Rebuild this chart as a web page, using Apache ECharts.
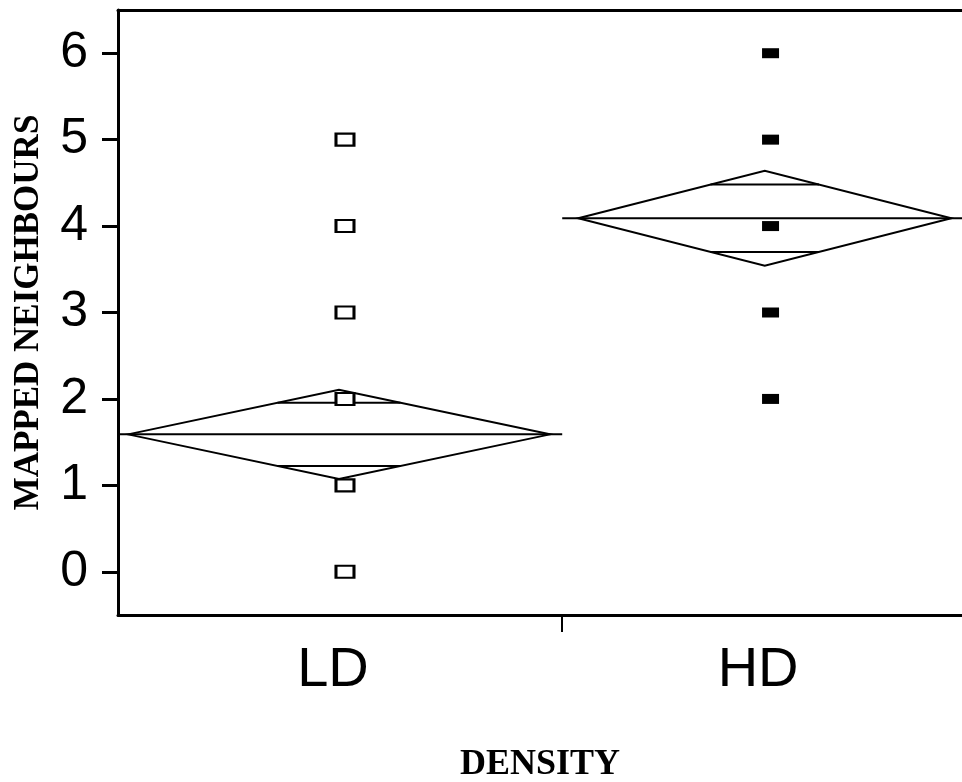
<!DOCTYPE html>
<html lang="en">

<head>
  <meta charset='utf-8'>
  <title>Mapped neighbours by density</title>
  <style>
    html, body { margin: 0; padding: 0; background: #fff; }
  </style>
</head>

<body>
  <div id="myCharts" style="width: 962px;height:782px;"></div>
  <script src="https://cdn.jsdelivr.net/npm/echarts@6.0.0/dist/echarts.min.js"></script>
  <script type="text/javascript">
    // groups on the x axis
    var categories = ['LD', 'HD'];
    // where each group label sits on the x scale
    var labelX = [0.484, 1.441];
    // where the raw points of each group sit on the x scale
    var pointX = [0.511, 1.469];
    // raw observations per group
    var ldValues = [0, 1, 2, 3, 4, 5];
    var hdValues = [2, 3, 4, 5, 6];
    // means diamonds: centre, half width, mean, CI half height, overlap mark half height
    var groupX = [0.4975, 1.456];
    var groupHalfWidth = [0.475, 0.42];
    var groupMeans = [1.59, 4.09];
    var ciHalf = [0.515, 0.55];
    var overlapHalf = [0.365, 0.39];
    // span of each group's mean line
    var meanStart = [0, 1];
    var meanEnd = [1, 1.9];
    // y axis ticks
    var yTicks = [0, 1, 2, 3, 4, 5, 6];

    var labelFont = 'Liberation Sans, Arial, sans-serif';
    var titleFont = 'Liberation Serif, Times New Roman, serif';

    var diamondData = categories.map(function (c, i) {
      return [groupX[i], groupMeans[i], ciHalf[i], overlapHalf[i], groupHalfWidth[i], meanStart[i], meanEnd[i]];
    });

    function renderDiamond(params, api) {
      var cx = api.value(0), m = api.value(1), ci = api.value(2), ov = api.value(3);
      var hw = api.value(4), s0 = api.value(5), s1 = api.value(6);
      var c = function (x, y) { return api.coord([x, y]); };
      // half width of the diamond at the overlap marks
      var ow = hw * (1 - ov / ci);
      var stroke = { stroke: '#000', lineWidth: 2, fill: null };
      return {
        type: 'group',
        children: [
          {
            type: 'polygon',
            shape: { points: [c(cx - hw, m), c(cx, m + ci), c(cx + hw, m), c(cx, m - ci)] },
            style: stroke
          },
          {
            type: 'polyline',
            shape: { points: [c(s0, m), c(s1, m)] },
            style: stroke
          },
          {
            type: 'polyline',
            shape: { points: [c(cx - ow, m + ov), c(cx + ow, m + ov)] },
            style: stroke
          },
          {
            type: 'polyline',
            shape: { points: [c(cx - ow, m - ov), c(cx + ow, m - ov)] },
            style: stroke
          }
        ]
      };
    }

    var myChart = echarts.init(document.getElementById('myCharts'));
    var chartOption = {
      animation: false,
      backgroundColor: '#fff',
      // keep the plot box where it is, labels may sit near the edges
      grid: { left: 118, right: 0, top: 10, bottom: 167, outerBoundsMode: 'none', containLabel: false },
      xAxis: [
        {
          type: 'value',
          min: 0,
          max: 1.9,
          name: 'DENSITY',
          nameLocation: 'middle',
          nameGap: 132,
          nameTextStyle: { fontFamily: titleFont, fontWeight: 'bold', fontSize: 36, color: '#000' },
          axisLine: { onZero: false, lineStyle: { color: '#000', width: 3 } },
          axisTick: { customValues: [1], length: 17, lineStyle: { color: '#000', width: 2 } },
          axisLabel: {
            customValues: labelX,
            margin: 28,
            fontFamily: labelFont,
            fontSize: 56,
            color: '#000',
            formatter: function (v) {
              var best = 0;
              labelX.forEach(function (x, i) { if (Math.abs(x - v) < Math.abs(labelX[best] - v)) best = i; });
              return categories[best];
            }
          },
          splitLine: { show: false }
        },
        {
          // top frame line
          type: 'value',
          position: 'top',
          min: 0,
          max: 1.9,
          axisLine: { onZero: false, lineStyle: { color: '#000', width: 3 } },
          axisTick: { show: false },
          axisLabel: { show: false },
          splitLine: { show: false }
        }
      ],
      yAxis: {
        type: 'value',
        min: -0.5,
        max: 6.5,
        name: 'MAPPED NEIGHBOURS',
        nameLocation: 'middle',
        nameGap: 72,
        nameTextStyle: { fontFamily: titleFont, fontWeight: 'bold', fontSize: 35, color: '#000' },
        axisLine: { show: true, onZero: false, lineStyle: { color: '#000', width: 3 } },
        axisTick: { show: true, customValues: yTicks, length: 16, lineStyle: { color: '#000', width: 3 } },
        axisLabel: {
          customValues: yTicks,
          margin: 30,
          fontFamily: labelFont,
          fontSize: 50,
          color: '#000'
        },
        splitLine: { show: false }
      },
      series: [
        {
          name: 'means',
          type: 'custom',
          renderItem: renderDiamond,
          encode: { x: 0, y: 1 },
          data: diamondData,
          z: 2
        },
        {
          name: 'LD',
          type: 'scatter',
          symbol: 'rect',
          symbolSize: [18, 12],
          itemStyle: { color: '#fff', borderColor: '#000', borderWidth: 2.5, opacity: 1 },
          data: ldValues.map(function (v) { return [pointX[0], v]; }),
          z: 3
        },
        {
          name: 'HD',
          type: 'scatter',
          symbol: 'rect',
          symbolSize: [17, 10],
          itemStyle: { color: '#000', opacity: 1 },
          data: hdValues.map(function (v) { return [pointX[1], v]; }),
          z: 3
        }
      ]
    };
    myChart.setOption(chartOption);
  </script>
</body>

</html>
